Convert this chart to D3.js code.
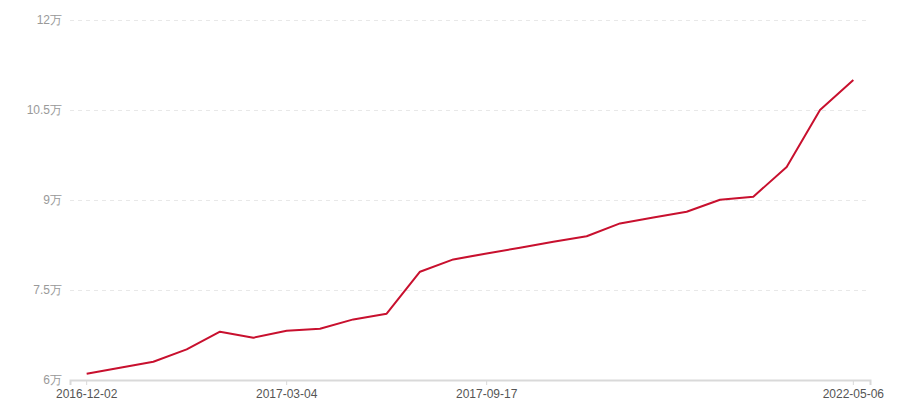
<!DOCTYPE html>
<html>
<head>
<meta charset="utf-8">
<script src="https://cdn.jsdelivr.net/npm/d3@7/dist/d3.min.js"></script>
<style>
  html, body { margin: 0; padding: 0; background: #fff; }
  svg { display: block; font-family: "Noto Sans CJK SC", "Noto Sans", sans-serif; }
</style>
</head>
<body>
<div id="chart"></div>
<script>
// ── Data ─────────────────────────────────────────────────────────────────────
// 24 observations; only some dates are shown on the axis.
const values = [
  61050, 62050, 63050, 65100, 68050, 67050, 68200, 68550,
  70100, 71050, 78050, 80100, 81100, 82050, 83050, 83950,
  86100, 87100, 88050, 90050, 90550, 95500, 105000, 110000,
];
const tickLabels = [
  { index: 0,  label: '2016-12-02' },
  { index: 6,  label: '2017-03-04' },
  { index: 12, label: '2017-09-17' },
  { index: 23, label: '2022-05-06' },
];
const yTicks = [60000, 75000, 90000, 105000, 120000];

// ── Layout ───────────────────────────────────────────────────────────────────
const width = 900, height = 400;
const margin = { top: 20, right: 30, bottom: 20, left: 70 };
const innerW = width - margin.left - margin.right;
const innerH = height - margin.top - margin.bottom;

const svg = d3.select('#chart').append('svg')
  .attr('width', width)
  .attr('height', height);

const g = svg.append('g')
  .attr('transform', `translate(${margin.left},${margin.top})`);

const x = d3.scaleBand()
  .domain(d3.range(values.length))
  .range([0, innerW]);

const y = d3.scaleLinear()
  .domain([60000, 120000])
  .range([innerH, 0]);

const fmt = (v) => `${+(v / 10000).toFixed(1)}万`;

// Grid lines
g.append('g')
  .selectAll('line')
  .data(yTicks.slice(1))
  .join('line')
  .attr('x1', 0)
  .attr('x2', innerW)
  .attr('y1', (d) => Math.round(y(d)) + 0.5)
  .attr('y2', (d) => Math.round(y(d)) + 0.5)
  .attr('stroke', '#e8e8e8')
  .attr('stroke-dasharray', '4,4');

// Y axis labels
const yAxis = g.append('g')
  .call(d3.axisLeft(y).tickValues(yTicks).tickFormat(fmt).tickSize(0).tickPadding(8));
yAxis.select('.domain').remove();
yAxis.selectAll('text')
  .attr('fill', '#999')
  .attr('font-size', 12);

// X axis
const xAxis = g.append('g')
  .attr('transform', `translate(0,${innerH})`)
  .call(
    d3.axisBottom(x)
      .tickValues(tickLabels.map((d) => d.index))
      .tickFormat((i) => tickLabels.find((d) => d.index === i).label)
      .tickSizeOuter(0)
      .tickSize(5)
      .tickPadding(4)
  );
xAxis.select('.domain')
  .attr('stroke', '#d9d9d9')
  .attr('stroke-width', 2);
xAxis.selectAll('.tick line').attr('stroke', '#d9d9d9');
xAxis.selectAll('text')
  .attr('fill', '#555')
  .attr('font-size', 12);

// Line
const line = d3.line()
  .x((d, i) => x(i) + x.bandwidth() / 2)
  .y((d) => y(d));

g.append('path')
  .datum(values)
  .attr('fill', 'none')
  .attr('stroke', '#c8102e')
  .attr('stroke-width', 2)
  .attr('stroke-linejoin', 'round')
  .attr('d', line);
</script>
</body>
</html>
